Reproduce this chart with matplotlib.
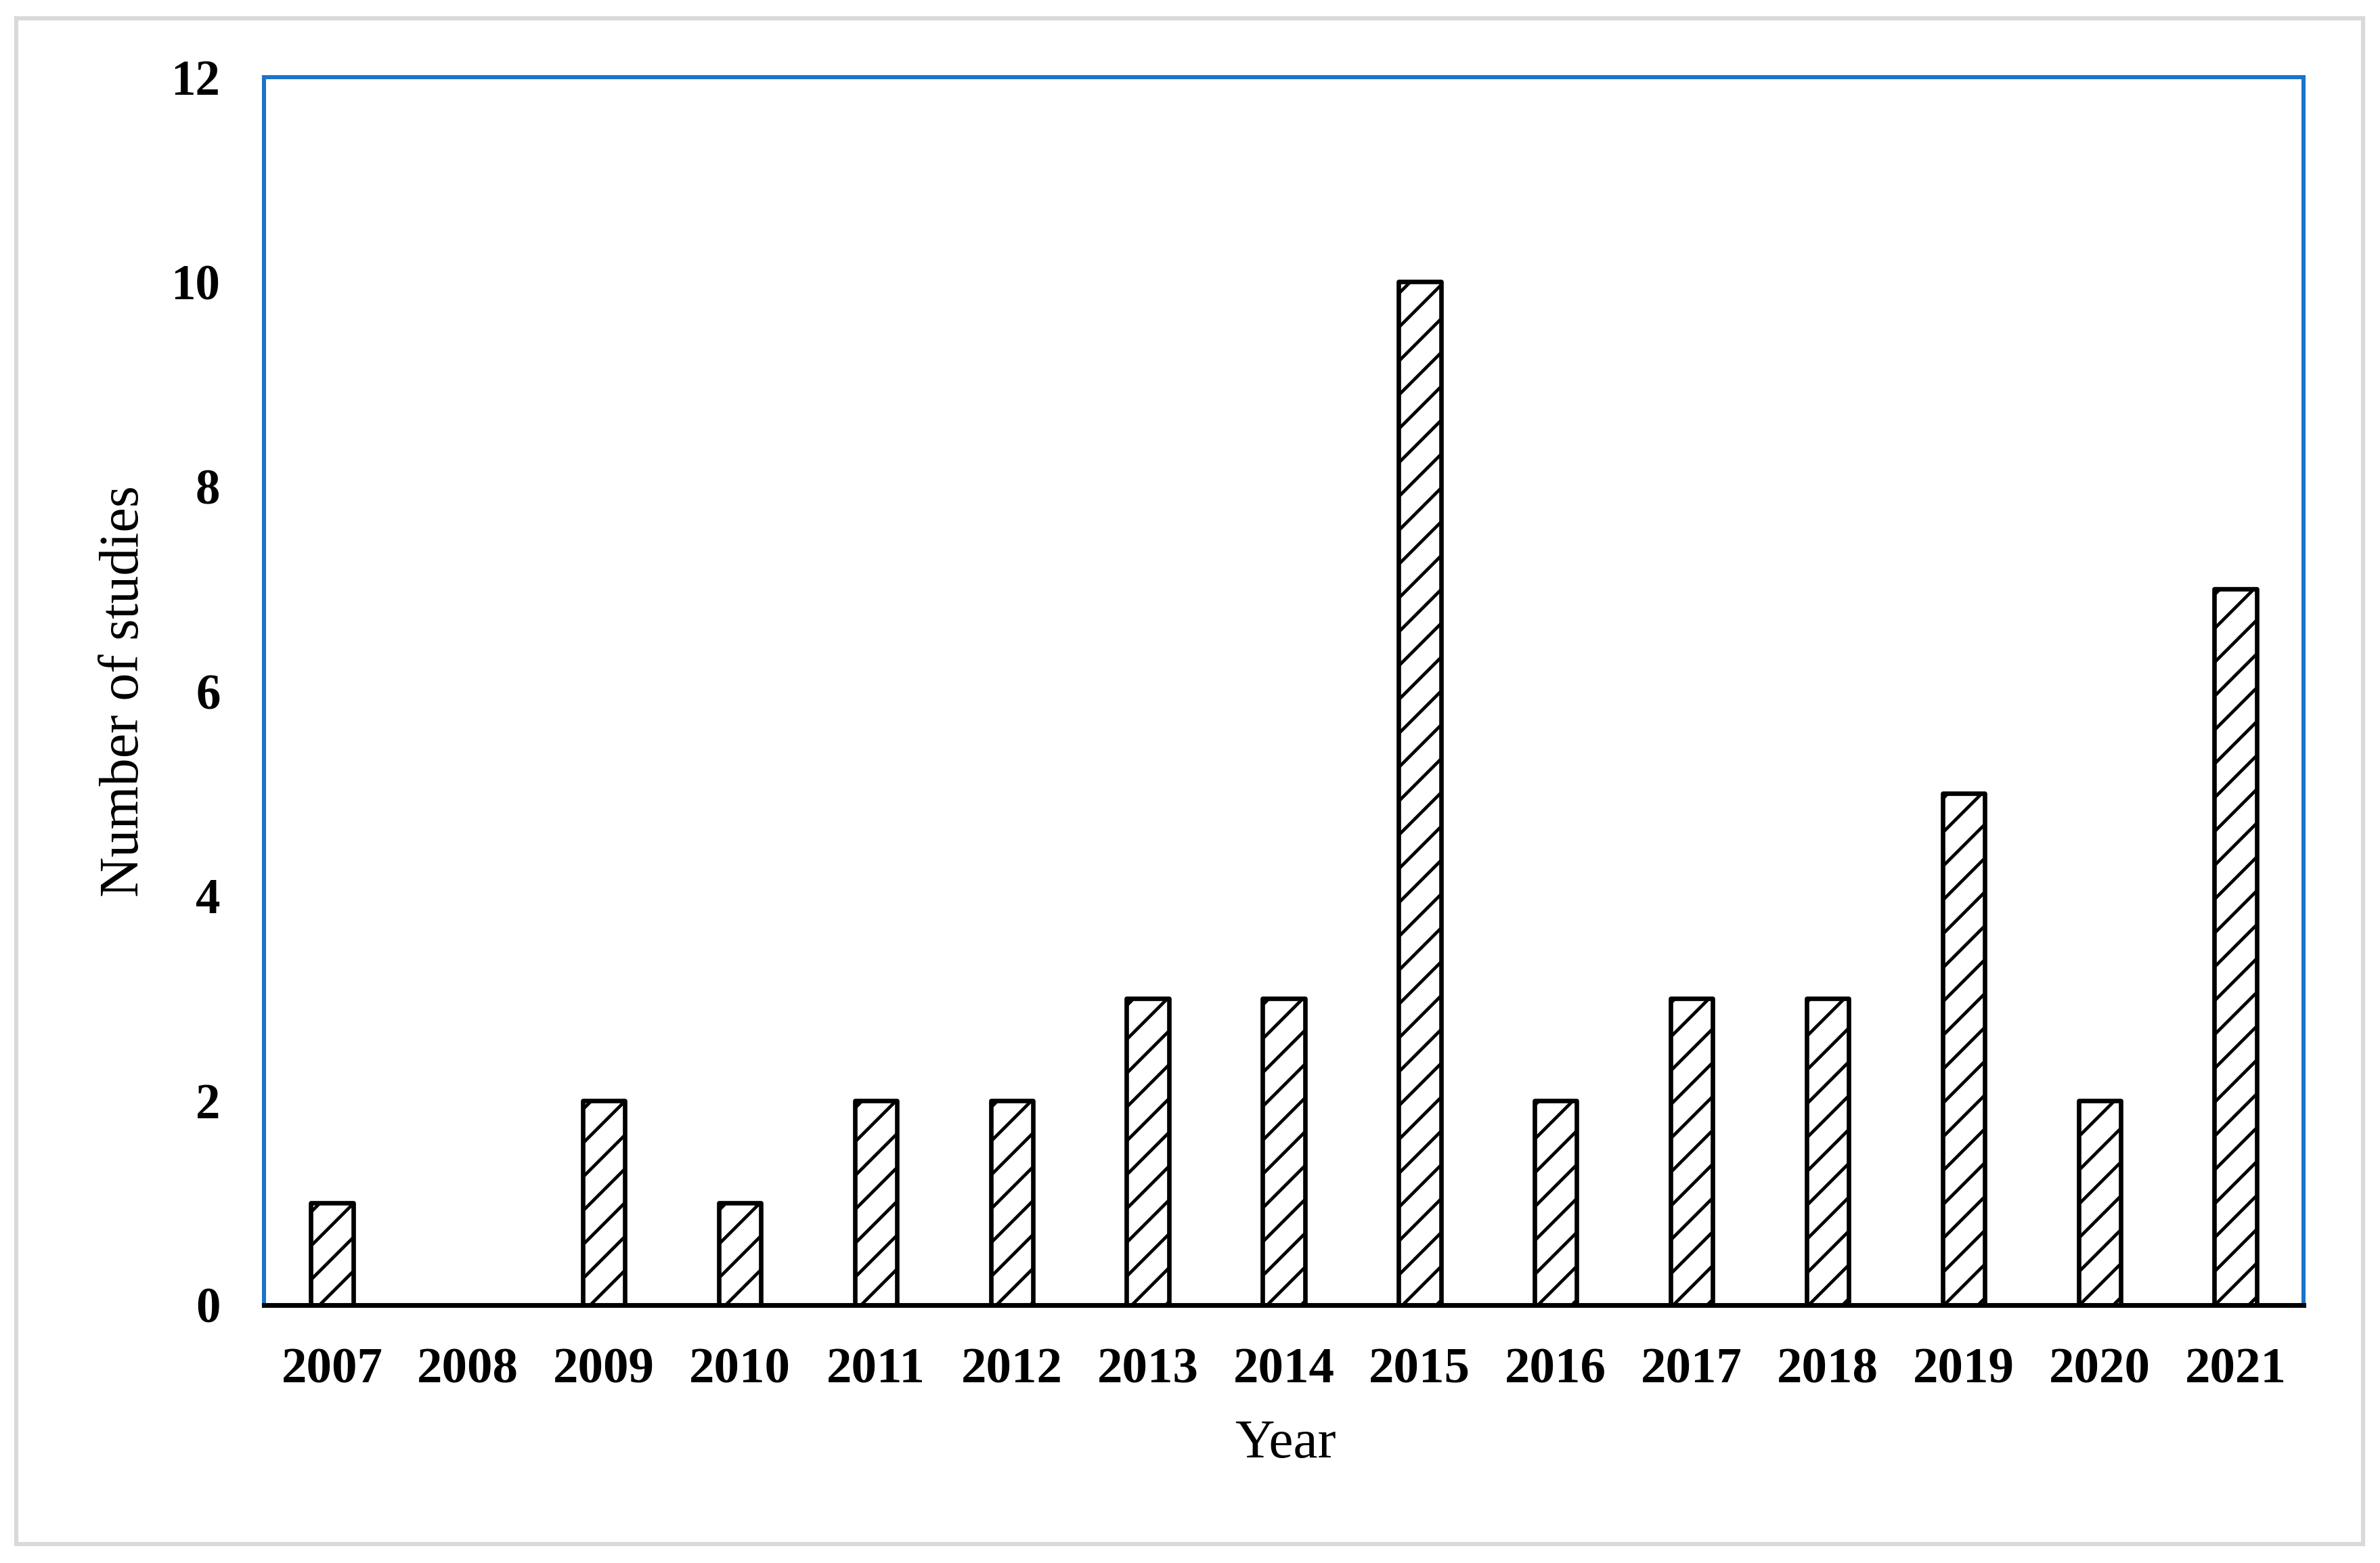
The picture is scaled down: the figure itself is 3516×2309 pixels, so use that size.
import matplotlib
matplotlib.use("Agg")
import matplotlib.pyplot as plt
from matplotlib.patches import Rectangle

years = ["2007", "2008", "2009", "2010", "2011", "2012", "2013", "2014",
         "2015", "2016", "2017", "2018", "2019", "2020", "2021"]
studies = [1, 0, 2, 1, 2, 2, 3, 3, 10, 2, 3, 3, 5, 2, 7]
y_ticks = [0, 2, 4, 6, 8, 10, 12]

DPI = 150
W, H = 3516, 2309
plt.rcParams['font.family'] = ['Liberation Serif', 'DejaVu Serif']
plt.rcParams['hatch.linewidth'] = 2.3
plt.rcParams['hatch.color'] = 'black'

fig = plt.figure(figsize=(W / DPI, H / DPI), dpi=DPI)
fig.patch.set_facecolor('white')

# outer light-grey frame
fig.patches.append(Rectangle((24 / W, 1 - 2281 / H), (3491 - 24) / W, (2281 - 27) / H,
                             transform=fig.transFigure, fill=False,
                             edgecolor='#d9d9d9', linewidth=3.0, zorder=0))

left, right, top, bottom = 390, 3403, 114, 1928
ax = fig.add_axes([left / W, 1 - bottom / H, (right - left) / W, (bottom - top) / H])

x = list(range(len(years)))
bars = ax.bar(x, studies, width=0.31, color='white', edgecolor='black',
              linewidth=3.2, hatch='/', zorder=2)
for b in bars:
    b.set_joinstyle('round')

ax.set_xlim(-0.5, len(years) - 0.5)
ax.set_ylim(0, 12)
ax.set_yticks(y_ticks)
ax.set_yticklabels([str(v) for v in y_ticks], fontsize=35, fontweight='bold')
ax.set_xticks(x)
ax.set_xticklabels(years, fontsize=36, fontweight='bold')
ax.tick_params(axis='both', length=0)
ax.tick_params(axis='y', pad=31)
ax.tick_params(axis='x', pad=30)

blue = '#1b74c9'
for s in ['top', 'right', 'left']:
    ax.spines[s].set_color(blue)
    ax.spines[s].set_linewidth(2.9)
ax.spines['bottom'].set_color('black')
ax.spines['bottom'].set_linewidth(3.4)
ax.spines['bottom'].set_zorder(3)

fig.text(0.540, (H - 2133) / H, 'Year', ha='center', va='center', fontsize=39)
fig.text(184 / W, (H - 1021) / H, 'Number of studies', ha='center', va='center',
         rotation=90, fontsize=39.5)

fig.savefig('out.png', dpi=DPI)
